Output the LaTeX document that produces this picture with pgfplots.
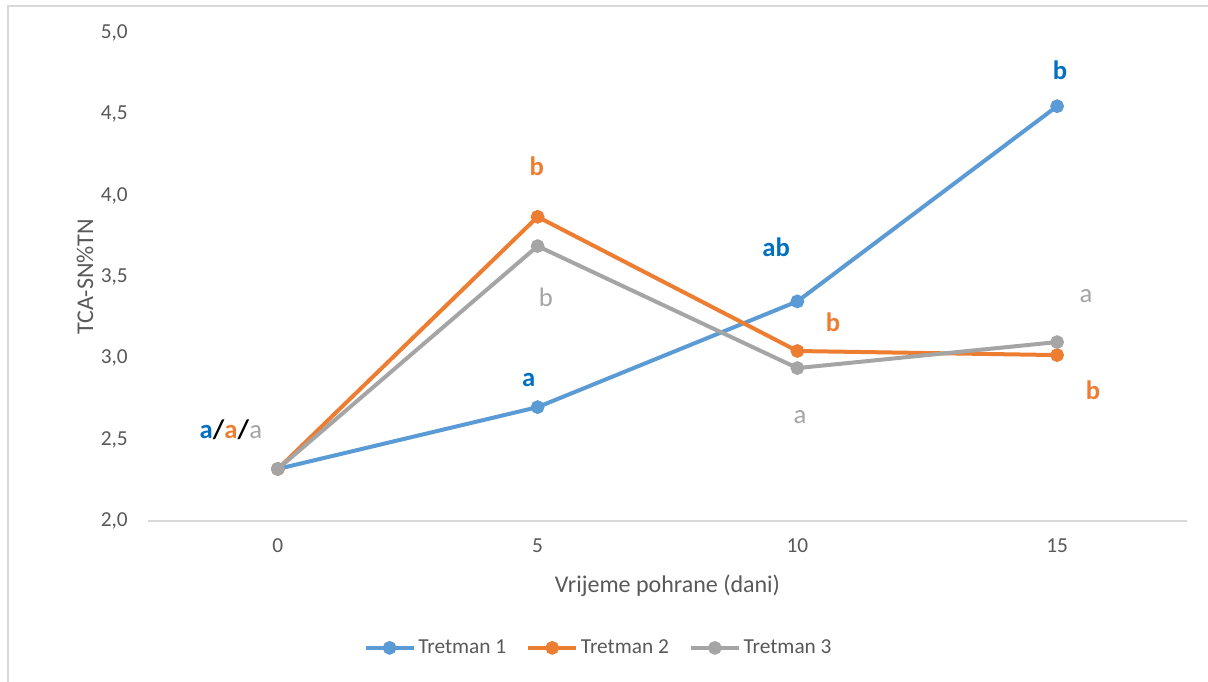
\documentclass[border=0pt]{standalone}
\usepackage{pgfplots}
\pgfplotsset{compat=1.18}
\usepackage{fontspec}
\setmainfont{Carlito}
\definecolor{cblue}{HTML}{5B9BD5}
\definecolor{cbluet}{HTML}{0070C0}
\definecolor{corange}{HTML}{ED7D31}
\definecolor{cgray}{HTML}{A5A5A5}
\definecolor{ctext}{HTML}{595959}
\definecolor{caxis}{HTML}{D9D9D9}
\begin{document}
\begin{tikzpicture}
\path[use as bounding box] (-111pt,-120.75pt) rectangle (795pt,390.75pt);
\fill[white] (-111pt,-120.75pt) rectangle (795pt,390.75pt);
\draw[caxis, line width=1pt] (-105pt,-120.75pt) -- (-105pt,386.25pt) -- (795pt,386.25pt);
\begin{axis}[
  at={(0,0)}, anchor=south west,
  scale only axis,
  width=779.25pt, height=366pt,
  xmin=-0.5, xmax=3.5, ymin=2, ymax=5,
  axis line style={draw=none},
  tick style={draw=none},
  xtick={0,1,2,3}, xticklabels={0,5,10,15},
  ytick={2,2.5,3,3.5,4,4.5,5},
  /pgf/number format/.cd, use comma, fixed, fixed zerofill, precision=1, assume math mode=true,
  /pgfplots/.cd,
  ticklabel style={font=\fontsize{16}{18}\selectfont, text=ctext},
  yticklabel style={inner sep=0pt, anchor=east, xshift=-15pt},
  xticklabel style={inner sep=0pt, anchor=north, yshift=-13pt},
  xlabel={Vrijeme pohrane (dani)},
  ylabel={TCA-SN\%TN},
  label style={font=\fontsize{18}{20}\selectfont, text=ctext},
  xlabel style={at={(axis description cs:0.5,-0.133)}, anchor=center},
  ylabel style={at={(axis description cs:-0.0606,0.5)}, anchor=center, rotate=0},
  legend style={at={(axis description cs:0.434,-0.260)}, anchor=center, draw=none, fill=none,
    font=\fontsize{16}{18}\selectfont, text=ctext, legend columns=3,
    /tikz/every even column/.append style={column sep=13pt}},
  legend image code/.code={\draw[#1, mark repeat=2, mark phase=2] plot coordinates {(0pt,0pt) (18pt,0pt) (36pt,0pt)};},
  clip=false,
]
\draw[caxis, line width=1pt] (rel axis cs:0,0) -- (rel axis cs:1,0);
\addplot[cblue, line width=3pt, mark=*, mark size=3.6pt] coordinates {(0,2.32) (1,2.70) (2,3.35) (3,4.55)};
\addlegendentry{Tretman 1}
\addplot[corange, line width=3pt, mark=*, mark size=3.6pt] coordinates {(0,2.32) (1,3.87) (2,3.045) (3,3.02)};
\addlegendentry{Tretman 2}
\addplot[cgray, line width=3pt, mark=*, mark size=3.6pt] coordinates {(0,2.32) (1,3.69) (2,2.94) (3,3.10)};
\addlegendentry{Tretman 3}
\begin{scope}[every node/.style={font=\fontsize{20}{22}\selectfont, inner sep=0pt, anchor=center}]
\node at (axis cs:-0.181,2.559) {\textcolor{cbluet}{\textbf{a}}\textbf{/}\textcolor{corange}{\textbf{a}}\textbf{/}\textcolor{cgray}{a}};
\node[text=cbluet] at (axis cs:0.966,2.867) {\textbf{a}};
\node[text=cbluet] at (axis cs:1.918,3.684) {\textbf{ab}};
\node[text=cbluet] at (axis cs:3.011,4.773) {\textbf{b}};
\node[text=corange] at (axis cs:0.997,4.182) {\textbf{b}};
\node[text=corange] at (axis cs:2.137,3.223) {\textbf{b}};
\node[text=corange] at (axis cs:3.138,2.805) {\textbf{b}};
\node[text=cgray] at (axis cs:1.032,3.377) {b};
\node[text=cgray] at (axis cs:2.010,2.639) {a};
\node[text=cgray] at (axis cs:3.111,3.383) {a};
\end{scope}
\end{axis}
\end{tikzpicture}
\end{document}
